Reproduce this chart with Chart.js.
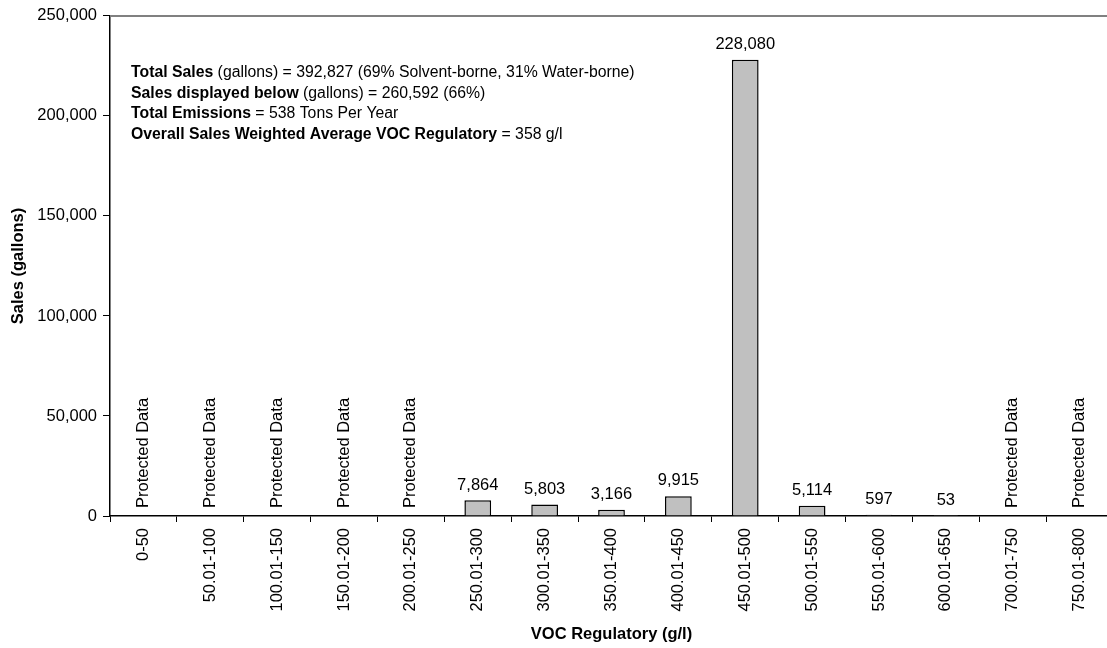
<!DOCTYPE html>
<html>
<head>
<meta charset="utf-8">
<script src="https://cdn.jsdelivr.net/npm/chart.js@4/dist/chart.umd.min.js"></script>
<style>
html, body { margin: 0; padding: 0; background: #fff; overflow: hidden; }
#wrap { width: 1120px; height: 648px; }
</style>
</head>
<body>
<div id="wrap"><canvas id="chart" width="1120" height="648"></canvas></div>
<script>
const categories = [
    "0-50", "50.01-100", "100.01-150", "150.01-200", "200.01-250",
    "250.01-300", "300.01-350", "350.01-400", "400.01-450", "450.01-500",
    "500.01-550", "550.01-600", "600.01-650", "700.01-750", "750.01-800"
];

// null = protected data
const sales = [
    null, null, null, null, null,
    7864, 5803, 3166, 9915, 228080,
    5114, 597, 53, null, null
];

const yTicks = [0, 50000, 100000, 150000, 200000, 250000];

const notes = [
    [["Total Sales", true], [" (gallons) = 392,827 (69% Solvent-borne, 31% Water-borne)", false]],
    [["Sales displayed below", true], [" (gallons) = 260,592 (66%)", false]],
    [["Total Emissions", true], [" = 538 Tons Per Year", false]],
    [["Overall Sales Weighted Average VOC Regulatory", true], [" = 358 g/l", false]]
];

const FONT = "'Liberation Sans', Arial, sans-serif";

const labelsPlugin = {
    id: "labels",
    afterDatasetsDraw(chart) {
        const ctx = chart.ctx;
        const x = chart.scales.x;
        const y = chart.scales.y;
        const area = chart.chartArea;

        ctx.save();

        // top border of plot area
        ctx.strokeStyle = "#808080";
        ctx.lineWidth = 2;
        ctx.beginPath();
        ctx.moveTo(area.left, area.top);
        ctx.lineTo(area.right + 10, area.top);
        ctx.stroke();

        ctx.fillStyle = "#000";
        ctx.font = "16.5px " + FONT;

        sales.forEach((v, i) => {
            const cx = x.getPixelForValue(i);
            if (v === null) {
                ctx.save();
                ctx.translate(cx, y.getPixelForValue(0) - 8);
                ctx.rotate(-Math.PI / 2);
                ctx.textAlign = "left";
                ctx.textBaseline = "middle";
                ctx.fillText("Protected Data", 0, 0);
                ctx.restore();
            } else {
                ctx.textAlign = "center";
                ctx.textBaseline = "bottom";
                ctx.fillText(v.toLocaleString("en-US"), cx, y.getPixelForValue(v) - 7);
            }
        });

        // text block
        ctx.textAlign = "left";
        ctx.textBaseline = "middle";
        notes.forEach((line, k) => {
            let tx = 131;
            const ty = 73 + k * 20.5;
            line.forEach(part => {
                ctx.font = (part[1] ? "bold " : "") + "15.8px " + FONT;
                ctx.fillText(part[0], tx, ty);
                tx += ctx.measureText(part[0]).width;
            });
        });

        ctx.restore();
    }
};

new Chart(document.getElementById("chart"), {
    type: "bar",
    data: {
        labels: categories,
        datasets: [{
            data: sales,
            backgroundColor: "#c0c0c0",
            borderColor: "#000",
            borderWidth: 1.5,
            barPercentage: 0.4,
            categoryPercentage: 1
        }]
    },
    options: {
        responsive: false,
        animation: false,
        layout: { padding: { top: 13, right: 7, left: 0, bottom: 0 } },
        plugins: {
            legend: { display: false },
            tooltip: { enabled: false }
        },
        scales: {
            x: {
                afterFit(s) { s.height = 132; },
                grid: {
                    drawOnChartArea: false,
                    drawTicks: true,
                    tickLength: 6,
                    color: "#000",
                    offset: true
                },
                border: { color: "#000", width: 1.5 },
                ticks: {
                    color: "#000",
                    font: { family: FONT, size: 16.5 },
                    minRotation: 90,
                    maxRotation: 90,
                    autoSkip: false,
                    padding: 6
                },
                title: {
                    display: true,
                    text: "VOC Regulatory (g/l)",
                    color: "#000",
                    font: { family: FONT, size: 16.5, weight: "bold" },
                    padding: { top: 4, bottom: 4 }
                }
            },
            y: {
                min: 0,
                max: 250000,
                afterFit(s) { s.width = 110; },
                afterBuildTicks(s) { s.ticks = yTicks.map(v => ({ value: v })); },
                grid: {
                    drawOnChartArea: false,
                    drawTicks: true,
                    tickLength: 7,
                    color: "#000"
                },
                border: { color: "#000", width: 1.5 },
                ticks: {
                    color: "#000",
                    font: { family: FONT, size: 16.5 },
                    padding: 6,
                    callback: v => v.toLocaleString("en-US")
                },
                title: {
                    display: true,
                    text: "Sales (gallons)",
                    color: "#000",
                    font: { family: FONT, size: 16.5, weight: "bold" },
                    padding: { top: 9, bottom: 0 }
                }
            }
        }
    },
    plugins: [labelsPlugin]
});
</script>
</body>
</html>
